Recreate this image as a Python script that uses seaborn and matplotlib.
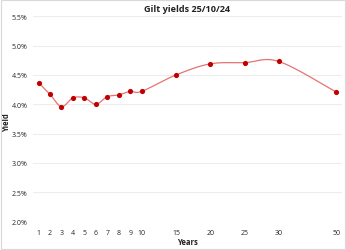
import numpy as np
import pandas as pd
import matplotlib
matplotlib.use("Agg")
import matplotlib.pyplot as plt
import seaborn as sns

years = [1, 2, 3, 4, 5, 6, 7, 8, 9, 10, 15, 20, 25, 30, 50]
yields = [4.37, 4.17, 3.96, 4.11, 4.11, 4.00, 4.13, 4.16, 4.22, 4.22, 4.50, 4.69, 4.71, 4.73, 4.21]
tick_labels = ["1", "2", "3", "4", "5", "6", "7", "8", "9", "10", "15", "20", "25", "30", "50"]
y_ticks = [2.0, 2.5, 3.0, 3.5, 4.0, 4.5, 5.0, 5.5]

# piecewise axis: years -> slot position (category-like spacing)
knot_years = np.array([0, 1, 2, 3, 4, 5, 6, 7, 8, 9, 10, 15, 20, 25, 30, 50, 60])
knot_pos = np.array([-1, 0, 1, 2, 3, 4, 5, 6, 7, 8, 9, 12, 15, 18, 21, 26, 28.5])

def fwd(x):
    return np.interp(x, knot_years, knot_pos)

def inv(p):
    return np.interp(p, knot_pos, knot_years)

sns.set_theme(style="white")
plt.rcParams['font.family'] = ['Open Sans', 'DejaVu Sans']

fig = plt.figure(figsize=(3.46, 2.51), dpi=100)
ax = fig.add_axes([0.095, 0.113, 0.893, 0.818])
ax.set_xscale('function', functions=(fwd, inv))

# smoothed (Catmull-Rom style) curve in position space
px = fwd(np.array(years, dtype=float))
py = np.array(yields)
curve_x, curve_y = [], []
n = len(px)
for i in range(n - 1):
    p0 = (px[i - 1], py[i - 1]) if i > 0 else (px[i], py[i])
    p1 = (px[i], py[i])
    p2 = (px[i + 1], py[i + 1])
    p3 = (px[i + 2], py[i + 2]) if i + 2 < n else (px[i + 1], py[i + 1])
    c1 = (p1[0] + (p2[0] - p0[0]) / 6, p1[1] + (p2[1] - p0[1]) / 6)
    c2 = (p2[0] - (p3[0] - p1[0]) / 6, p2[1] - (p3[1] - p1[1]) / 6)
    t = np.linspace(0, 1, 30)
    bx = (1 - t) ** 3 * p1[0] + 3 * (1 - t) ** 2 * t * c1[0] + 3 * (1 - t) * t ** 2 * c2[0] + t ** 3 * p2[0]
    by = (1 - t) ** 3 * p1[1] + 3 * (1 - t) ** 2 * t * c1[1] + 3 * (1 - t) * t ** 2 * c2[1] + t ** 3 * p2[1]
    curve_x.extend(bx)
    curve_y.extend(by)
curve_df = pd.DataFrame({"Years": inv(np.array(curve_x)), "Yield": curve_y})
sns.lineplot(data=curve_df, x="Years", y="Yield", ax=ax, color="#E57373",
             linewidth=0.9, sort=False, estimator=None)

df = pd.DataFrame({"Years": years, "Yield": yields})
sns.scatterplot(data=df, x="Years", y="Yield", ax=ax, color="#C00000",
                s=14, edgecolor="#C00000", linewidth=0, zorder=5)

ax.set_xlim(inv(-0.5), inv(26.5))
ax.set_ylim(2.0, 5.5)
ax.set_yticks(y_ticks)
ax.set_yticklabels([f"{v:.1f}%" for v in y_ticks])
ax.set_xticks(years)
ax.set_xticklabels(tick_labels)
ax.minorticks_off()
ax.tick_params(axis='both', labelsize=5, length=0, colors="#262626")
ax.tick_params(axis='x', pad=5)
ax.tick_params(axis='y', pad=4)
ax.grid(axis='y', color="#EDEDED", linewidth=0.8)
ax.grid(axis='x', visible=False)
for s in ax.spines.values():
    s.set_visible(False)

ax.set_xlabel("Years", fontsize=5.5, fontweight='bold', labelpad=1, color="#222222")
ax.set_ylabel("Yield", fontsize=5.5, fontweight='bold', color="#222222")
ax.yaxis.set_label_coords(-0.072, 0.485)
ax.set_title("Gilt yields 25/10/24", fontsize=6.6, fontweight='bold', pad=3.5, color="#222222")

fig.patches.append(plt.Rectangle((0.002, 0.002), 0.996, 0.996, transform=fig.transFigure,
                                 fill=False, edgecolor="#D9D9D9", linewidth=0.8))

fig.savefig("out.png", dpi=100)
